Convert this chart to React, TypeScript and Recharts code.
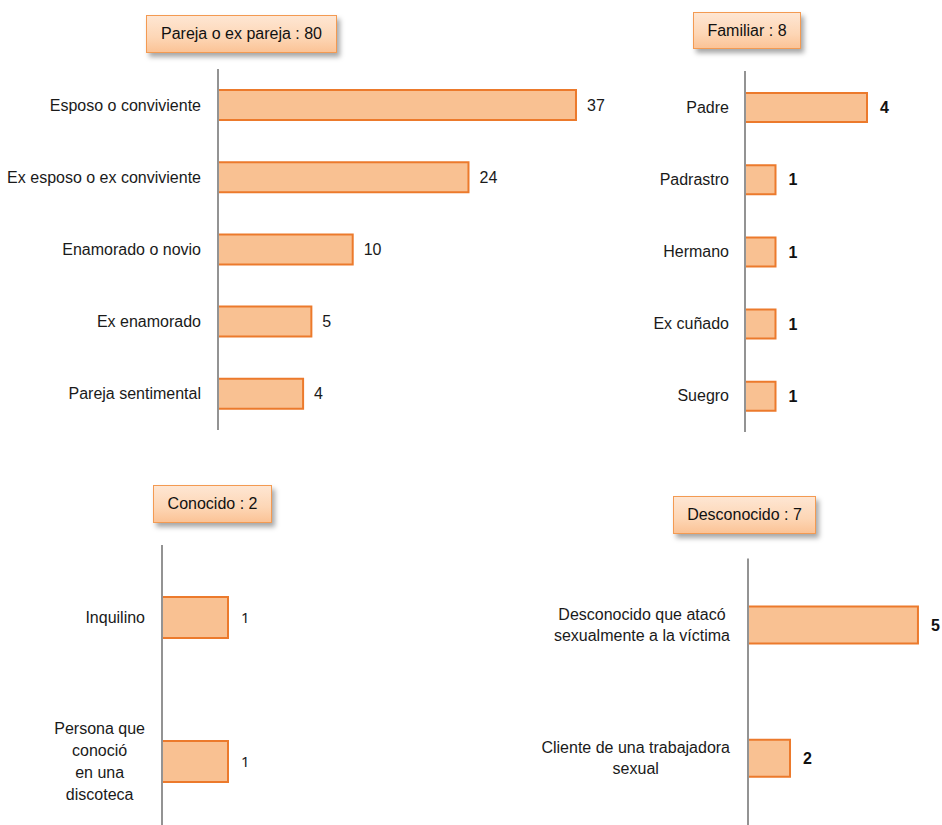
import React from "react";
import { BarChart, Bar, XAxis, YAxis, LabelList } from "recharts";

const parejaTitle = "Pareja o ex pareja : 80";
const parejaCats = ["Esposo o conviviente", "Ex esposo o ex conviviente", "Enamorado o novio", "Ex enamorado", "Pareja sentimental"];
const parejaVals = [37, 24, 10, 5, 4];

const familiarTitle = "Familiar : 8";
const familiarCats = ["Padre", "Padrastro", "Hermano", "Ex cuñado", "Suegro"];
const familiarVals = [4, 1, 1, 1, 1];

const conocidoTitle = "Conocido : 2";
const conocidoCats = ["Inquilino", "Persona que\nconoció\nen una\ndiscoteca"];
const conocidoVals = [1, 1];

const desconocidoTitle = "Desconocido : 7";
const desconocidoCats = ["Desconocido que atacó\nsexualmente a la víctima", "Cliente de una trabajadora\nsexual"];
const desconocidoVals = [5, 2];

const FONT = '"Liberation Sans", Arial, sans-serif';
const BAR_FILL = "#f9c192";
const BAR_STROKE = "#ec7a2c";
const AXIS_COLOR = "#939393";

const toRows = (cats: string[], vals: number[], base: number) =>
  cats.map((c, i) => ({ name: c, value: vals[i], range: [base, vals[i]] }));

let _ctx: CanvasRenderingContext2D | null = null;
const measure = (s: string, size: number) => {
  if (!_ctx) {
    const c = document.createElement("canvas");
    _ctx = c.getContext("2d");
  }
  if (!_ctx) return s.length * size * 0.5;
  _ctx.font = `${size}px ${FONT}`;
  return _ctx.measureText(s).width;
};

const makeTick = (fontSize: number, lineH: number) => (props: any) => {
  const { x, y, payload } = props;
  const lines = String(payload.value).split("\n");
  const maxW = Math.max(...lines.map((l) => measure(l, fontSize)));
  const cx = x - maxW / 2;
  return (
    <g>
      {lines.map((l, i) => (
        <text
          key={i}
          x={cx}
          y={y + (i - (lines.length - 1) / 2) * lineH}
          textAnchor="middle"
          dominantBaseline="central"
          fontSize={fontSize}
          fontFamily={FONT}
          fill="#1a1a1a"
        >
          {l}
        </text>
      ))}
    </g>
  );
};

const TitleBox = ({ text, left, top, width, height }: any) => (
  <div
    style={{
      position: "absolute",
      left,
      top,
      width,
      height,
      boxSizing: "border-box",
      border: "1.5px solid #f39a52",
      background: "linear-gradient(to bottom, #fee6d3 0%, #fdd6b5 60%, #fbc396 100%)",
      boxShadow: "3px 4px 5px rgba(0,0,0,0.35)",
      display: "flex",
      alignItems: "center",
      justifyContent: "center",
      fontFamily: FONT,
      fontSize: 16,
      color: "#111",
    }}
  >
    {text}
  </div>
);

const Panel = ({
  data,
  left,
  top,
  width,
  height,
  marginTop,
  axisW,
  domain,
  barSize,
  tickFont,
  tickLineH,
  tickGap,
  labelOffset,
  labelStyle,
}: any) => (
  <div style={{ position: "absolute", left, top }}>
    <BarChart
      width={width}
      height={height}
      data={data}
      layout="vertical"
      margin={{ top: marginTop, right: 40, left: 0, bottom: 0 }}
    >
      <XAxis type="number" domain={domain} allowDataOverflow hide />
      <YAxis
        type="category"
        dataKey="name"
        width={axisW}
        tickLine={false}
        tickSize={0}
        tickMargin={tickGap}
        axisLine={{ stroke: AXIS_COLOR, strokeWidth: 2 }}
        tick={makeTick(tickFont, tickLineH)}
        interval={0}
      />
      <Bar dataKey="range" fill={BAR_FILL} stroke={BAR_STROKE} strokeWidth={2} barSize={barSize} isAnimationActive={false}>
        <LabelList dataKey="value" position="right" offset={labelOffset} {...labelStyle} />
      </Bar>
    </BarChart>
  </div>
);

const parejaDomain = [-6.29, 42.08];
const familiarDomain = [0, 6];
const conocidoDomain = [0, 1.5];
const desconocidoDomain = [1.015, 5.47];

export default function App() {
  return (
    <div style={{ position: "fixed", left: 0, top: 0, width: 942, height: 825, overflow: "hidden", background: "#fff" }}>
      <Panel
        data={toRows(parejaCats, parejaVals, parejaDomain[0])}
        left={0}
        top={0}
        width={658}
        height={430}
        marginTop={69}
        axisW={218}
        domain={parejaDomain}
        barSize={30}
        tickFont={16}
        tickLineH={21}
        tickGap={17}
        labelOffset={11}
        labelStyle={{ fill: "#1a1a1a", fontSize: 16, fontFamily: FONT }}
      />
      <Panel
        data={toRows(familiarCats, familiarVals, familiarDomain[0])}
        left={600}
        top={0}
        width={368}
        height={432}
        marginTop={71}
        axisW={145}
        domain={familiarDomain}
        barSize={29}
        tickFont={16}
        tickLineH={21}
        tickGap={16}
        labelOffset={13}
        labelStyle={{ fill: "#111", fontSize: 16, fontWeight: "bold", fontFamily: FONT }}
      />
      <Panel
        data={toRows(conocidoCats, conocidoVals, conocidoDomain[0])}
        left={0}
        top={500}
        width={301}
        height={333}
        marginTop={45}
        axisW={162}
        domain={conocidoDomain}
        barSize={41}
        tickFont={16}
        tickLineH={22}
        tickGap={17}
        labelOffset={13}
        labelStyle={{ fill: "#1a1a1a", fontSize: 15, fontFamily: '"Noto Sans", sans-serif' }}
      />
      <Panel
        data={toRows(desconocidoCats, desconocidoVals, desconocidoDomain[0])}
        left={500}
        top={500}
        width={478}
        height={325}
        marginTop={58.5}
        axisW={248}
        domain={desconocidoDomain}
        barSize={37}
        tickFont={16}
        tickLineH={21}
        tickGap={18}
        labelOffset={13}
        labelStyle={{ fill: "#111", fontSize: 16, fontWeight: "bold", fontFamily: FONT }}
      />
      <TitleBox text={parejaTitle} left={146} top={15} width={191} height={38} />
      <TitleBox text={familiarTitle} left={693} top={12} width={108} height={37} />
      <TitleBox text={conocidoTitle} left={153} top={485} width={119} height={38} />
      <TitleBox text={desconocidoTitle} left={673} top={496} width={143} height={38} />
    </div>
  );
}
